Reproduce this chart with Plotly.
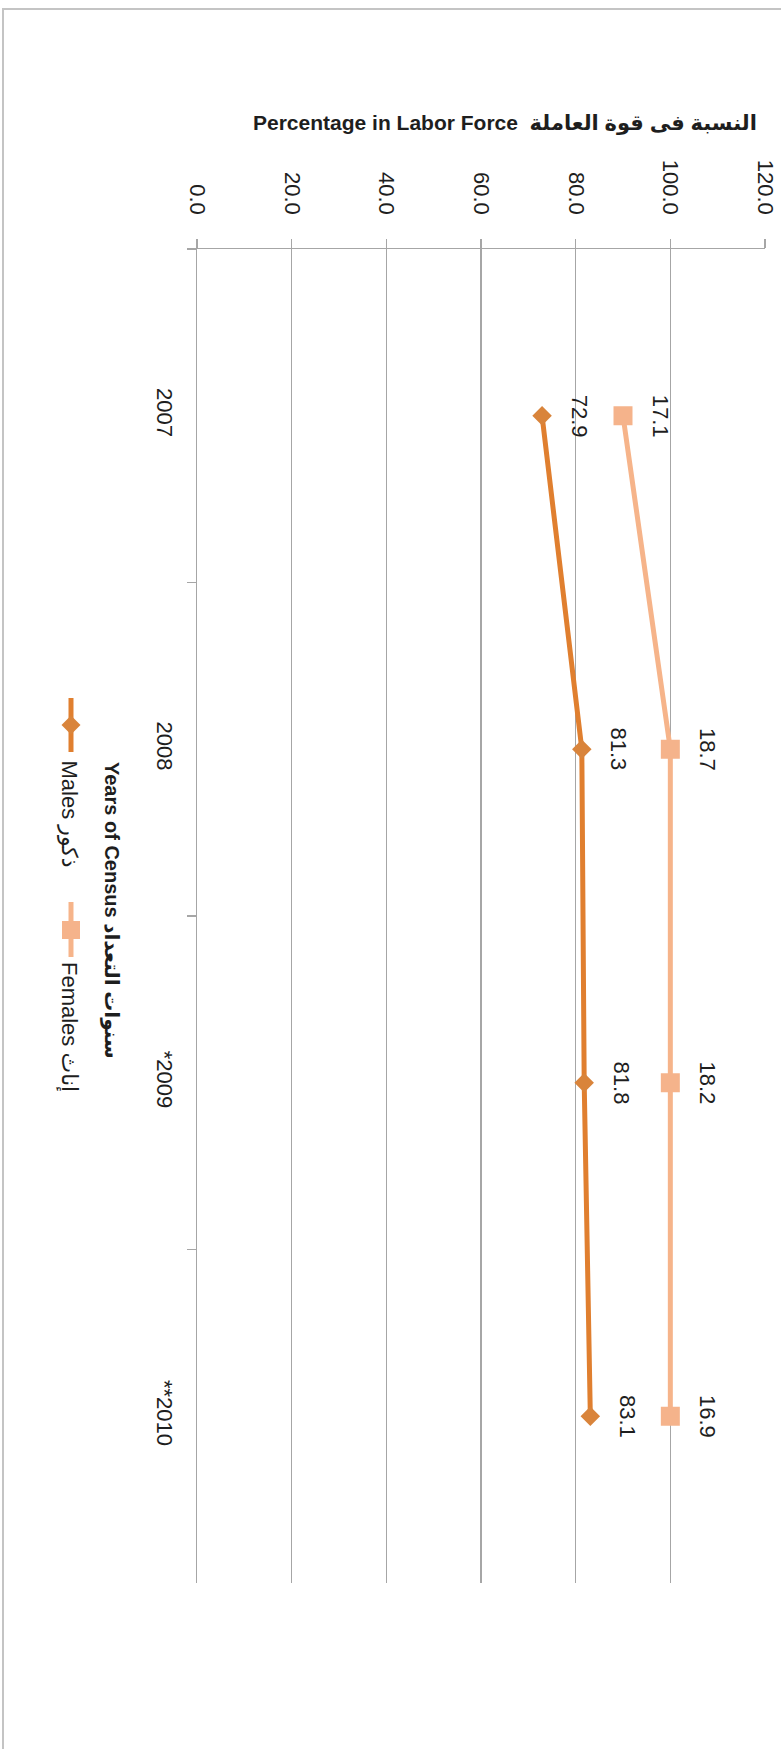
import plotly.graph_objects as go

# ---------------- data ----------------
years = ["2007", "2008", "*2009", "**2010"]
males = [72.9, 81.3, 81.8, 83.1]
females = [17.1, 18.7, 18.2, 16.9]
value_ticks = [0, 20, 40, 60, 80, 100, 120]
value_tick_text = ["0.0", "20.0", "40.0", "60.0", "80.0", "100.0", "120.0"]
series_names = ["Males ذكور", "Females إناث"]
chart_title = "Percentage in Labor Force  النسبة فى قوة العاملة"
cat_title = "Years of Census سنوات التعداد"

# stacked line chart: females drawn on top of males
females_stacked = [round(m + f, 1) for m, f in zip(males, females)]

# ---------------- style ----------------
W, H = 781, 1749
ML, MR, MT, MB = 197, 16, 249, 166
PW, PH = W - ML - MR, H - MT - MB
MALE_LINE = "#E07F2F"
MALE_MARK = "#D9843B"
FEM_LINE = "#F6B48A"
FEM_MARK = "#F5B38B"
GRID = "#A6A6A6"
FONT = "Liberation Sans, Arial, DejaVu Sans, sans-serif"
TXT = "#1E1E1E"


def px(xp):
    return (xp - ML) / PW


def py(yp):
    return 1 - (yp - MT) / PH


fig = go.Figure()
fig.add_trace(go.Scatter(
    x=males, y=years, mode="lines+markers", name=series_names[0],
    line=dict(color=MALE_LINE, width=5),
    marker=dict(symbol="diamond", size=15, color=MALE_MARK),
    showlegend=False, cliponaxis=False,
))
fig.add_trace(go.Scatter(
    x=females_stacked, y=years, mode="lines+markers", name=series_names[1],
    line=dict(color=FEM_LINE, width=5),
    marker=dict(symbol="square", size=19, color=FEM_MARK),
    showlegend=False, cliponaxis=False,
))

annotations = []
# data labels (rotated like the rest of the chart); y = category index
for i, (m, f, fs) in enumerate(zip(males, females, females_stacked)):
    annotations.append(dict(x=m, y=i, xref="x", yref="y", text=f"{m:.1f}",
                            textangle=90, showarrow=False, xshift=37,
                            font=dict(family=FONT, size=22, color=TXT)))
    annotations.append(dict(x=fs, y=i, xref="x", yref="y", text=f"{f:.1f}",
                            textangle=90, showarrow=False, xshift=37,
                            font=dict(family=FONT, size=22, color=TXT)))

# chart title (horizontal)
annotations.append(dict(x=px(759), y=py(123), xref="paper", yref="paper",
                        xanchor="right", yanchor="middle", showarrow=False,
                        text="<b>" + chart_title + "</b>",
                        font=dict(family=FONT, size=21, color=TXT)))
# category axis title (rotated)
annotations.append(dict(x=px(112), y=py(910), xref="paper", yref="paper",
                        xanchor="center", yanchor="middle", showarrow=False,
                        textangle=90, text="<b>" + cat_title + "</b>",
                        font=dict(family=FONT, size=20, color=TXT)))
# legend texts (rotated)
annotations.append(dict(x=px(69), y=py(758), xref="paper", yref="paper",
                        xanchor="center", yanchor="top", showarrow=False,
                        textangle=90, text=series_names[0],
                        font=dict(family=FONT, size=22, color=TXT)))
annotations.append(dict(x=px(69), y=py(960), xref="paper", yref="paper",
                        xanchor="center", yanchor="top", showarrow=False,
                        textangle=90, text=series_names[1],
                        font=dict(family=FONT, size=22, color=TXT)))

shapes = []
# outer border (top and left visible)
shapes.append(dict(type="rect", xref="paper", yref="paper",
                   x0=px(3), x1=px(W + 20), y0=py(9), y1=py(H + 20),
                   line=dict(color="#C4C4C4", width=2), layer="below"))
# legend symbols
lx = 71
shapes.append(dict(type="line", xref="paper", yref="paper",
                   x0=px(lx), x1=px(lx), y0=py(698), y1=py(752),
                   line=dict(color=MALE_LINE, width=5)))
dc, dr = 725, 9.5
shapes.append(dict(type="path", xref="paper", yref="paper",
                   path=(f"M {px(lx)},{py(dc - dr)} L {px(lx + dr)},{py(dc)} "
                         f"L {px(lx)},{py(dc + dr)} L {px(lx - dr)},{py(dc)} Z"),
                   fillcolor=MALE_MARK, line=dict(color=MALE_MARK, width=0)))
shapes.append(dict(type="line", xref="paper", yref="paper",
                   x0=px(lx), x1=px(lx), y0=py(902), y1=py(957),
                   line=dict(color=FEM_LINE, width=5)))
sc, sr = 930, 9
shapes.append(dict(type="rect", xref="paper", yref="paper",
                   x0=px(lx - sr), x1=px(lx + sr), y0=py(sc + sr), y1=py(sc - sr),
                   fillcolor=FEM_MARK, line=dict(color=FEM_MARK, width=0)))

fig.update_layout(
    width=W, height=H,
    margin=dict(l=ML, r=MR, t=MT, b=MB, pad=0, autoexpand=False),
    paper_bgcolor="white", plot_bgcolor="white",
    font=dict(family=FONT, size=22, color=TXT),
    showlegend=False,
    hovermode=False,
    annotations=annotations,
    shapes=shapes,
    xaxis=dict(
        range=[0, 120], side="top", automargin=False,
        tickvals=value_ticks, ticktext=value_tick_text, tickangle=90,
        showgrid=True, gridcolor=GRID, gridwidth=1.5,
        showline=True, linecolor=GRID, linewidth=1.5,
        ticks="outside", ticklen=9, tickcolor=GRID, tickwidth=1.5,
        zeroline=False, ticklabelstandoff=16,
        tickfont=dict(family=FONT, size=22, color=TXT),
    ),
    yaxis=dict(
        type="category", categoryorder="array", categoryarray=years,
        range=[3.5, -0.5], automargin=False,
        showgrid=False, zeroline=False,
        showline=True, linecolor=GRID, linewidth=1.5,
        ticks="outside", tickson="boundaries", ticklen=9,
        tickcolor=GRID, tickwidth=1.5,
        tickangle=90, ticklabelstandoff=12,
        tickfont=dict(family=FONT, size=22, color=TXT),
    ),
)

fig.write_html(
    "out.html",
    config={"displayModeBar": False, "staticPlot": True},
    post_script="document.body.style.margin='0';document.body.style.overflow='hidden';",
)
